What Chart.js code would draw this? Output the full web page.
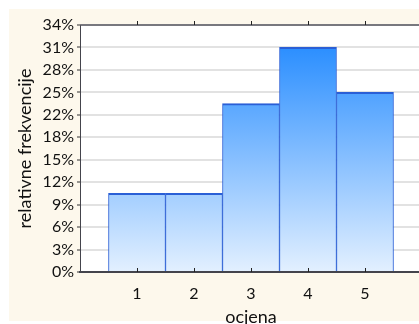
<!DOCTYPE html>
<html>
<head>
<meta charset="utf-8">
<script src="https://cdn.jsdelivr.net/npm/chart.js@4/dist/chart.umd.min.js"></script>
<style>
  html, body { margin: 0; padding: 0; background: #ffffff; overflow: hidden; }
  #wrap { width: 419px; height: 324px; overflow: hidden; }
  canvas { display: block; }
</style>
</head>
<body>
<div id="wrap"><canvas id="c" width="423" height="324"></canvas></div>
<script>
// Grades and their relative frequencies (%)
const grades = [1, 2, 3, 4, 5];
const gradeLabels = ['1', '2', '3', '4', '5'];
const relFreq = [10.77, 10.77, 23.08, 30.77, 24.62];

// Y axis tick positions and their printed labels
const yTickValues = [0, 3.077, 6.154, 9.231, 12.308, 15.385, 18.462, 21.538, 24.615, 27.692, 30.769, 33.846];
const yTickLabels = ['0%', '3%', '6%', '9%', '12%', '15%', '18%', '22%', '25%', '28%', '31%', '34%'];

const FONT = "Lato, 'Open Sans', sans-serif";
const CREAM = '#fdf8ec';
const AXIS_DARK = '#44444c';

// Background panel, white plot area, frame lines and small tick marks
const framePlugin = {
  id: 'frame',
  beforeDraw(chart) {
    const { ctx, chartArea: a, width, height } = chart;
    ctx.save();
    ctx.fillStyle = '#ffffff';
    ctx.fillRect(0, 0, width, height);
    ctx.fillStyle = CREAM;
    ctx.fillRect(9, 9, width - 9, 312);
    ctx.fillStyle = '#ffffff';
    ctx.fillRect(a.left, a.top, a.right - a.left, a.bottom - a.top);
    ctx.restore();
  },
  afterDatasetsDraw(chart) {
    const { ctx, chartArea: a, scales } = chart;
    ctx.save();
    // top frame line
    ctx.strokeStyle = '#55555c';
    ctx.lineWidth = 1.5;
    ctx.beginPath();
    ctx.moveTo(a.left, a.top);
    ctx.lineTo(a.right, a.top);
    ctx.stroke();
    // tick marks at each grade, bottom (inward) and top (outward)
    ctx.strokeStyle = '#222';
    ctx.lineWidth = 1;
    grades.forEach(g => {
      const x = Math.round(scales.x.getPixelForValue(g)) + 0.5;
      ctx.beginPath();
      ctx.moveTo(x, a.bottom);
      ctx.lineTo(x, a.bottom - 4);
      ctx.moveTo(x, a.top);
      ctx.lineTo(x, a.top - 4);
      ctx.stroke();
    });
    ctx.restore();
  }
};

function barGradient(context) {
  const { chart } = context;
  const a = chart.chartArea;
  if (!a) return '#4da3ff';
  const g = chart.ctx.createLinearGradient(0, a.top, 0, a.bottom);
  g.addColorStop(0, '#1985ff');
  g.addColorStop(1, '#e3f0ff');
  return g;
}

new Chart(document.getElementById('c'), {
  type: 'bar',
  data: {
    datasets: [{
      data: grades.map((g, i) => ({ x: g, y: relFreq[i] })),
      backgroundColor: barGradient,
      borderColor: '#2a5fd6',
      borderWidth: { top: 2, left: 1, right: 1, bottom: 0 },
      borderSkipped: 'bottom',
      barPercentage: 1,
      categoryPercentage: 1
    }]
  },
  options: {
    responsive: false,
    devicePixelRatio: 1,
    animation: false,
    layout: { padding: { top: 25, right: 1, left: 0, bottom: 0 } },
    plugins: { legend: { display: false }, tooltip: { enabled: false } },
    scales: {
      x: {
        type: 'linear',
        offset: false,
        min: 0,
        max: 6,
        afterBuildTicks(scale) { scale.ticks = grades.map(v => ({ value: v })); },
        afterFit(scale) { scale.height = 52; },
        grid: { display: false, offset: false },
        border: { display: true, color: AXIS_DARK, width: 2 },
        ticks: {
          padding: 4,
          color: '#111',
          font: { family: FONT, size: 16 },
          callback: (v) => gradeLabels[grades.indexOf(v)] ?? ''
        },
        title: {
          display: true,
          text: 'ocjena',
          color: '#111',
          font: { family: FONT, size: 18 },
          padding: { top: 0, bottom: -4 }
        }
      },
      y: {
        min: 0,
        max: 33.846,
        afterBuildTicks(scale) { scale.ticks = yTickValues.map(v => ({ value: v })); },
        afterFit(scale) { scale.width = 80; },
        grid: {
          color: '#e2e2e2',
          lineWidth: 2,
          tickColor: '#333',
          tickLength: 3,
          tickWidth: 1
        },
        border: { display: true, color: AXIS_DARK, width: 1 },
        ticks: {
          padding: 3,
          color: '#111',
          font: { family: FONT, size: 16 },
          callback: (v, i) => yTickLabels[i]
        },
        title: {
          display: true,
          text: 'relativne frekvencije',
          color: '#111',
          font: { family: FONT, size: 18 },
          padding: { top: 14, bottom: 0 }
        }
      }
    }
  },
  plugins: [framePlugin]
});
</script>
</body>
</html>
